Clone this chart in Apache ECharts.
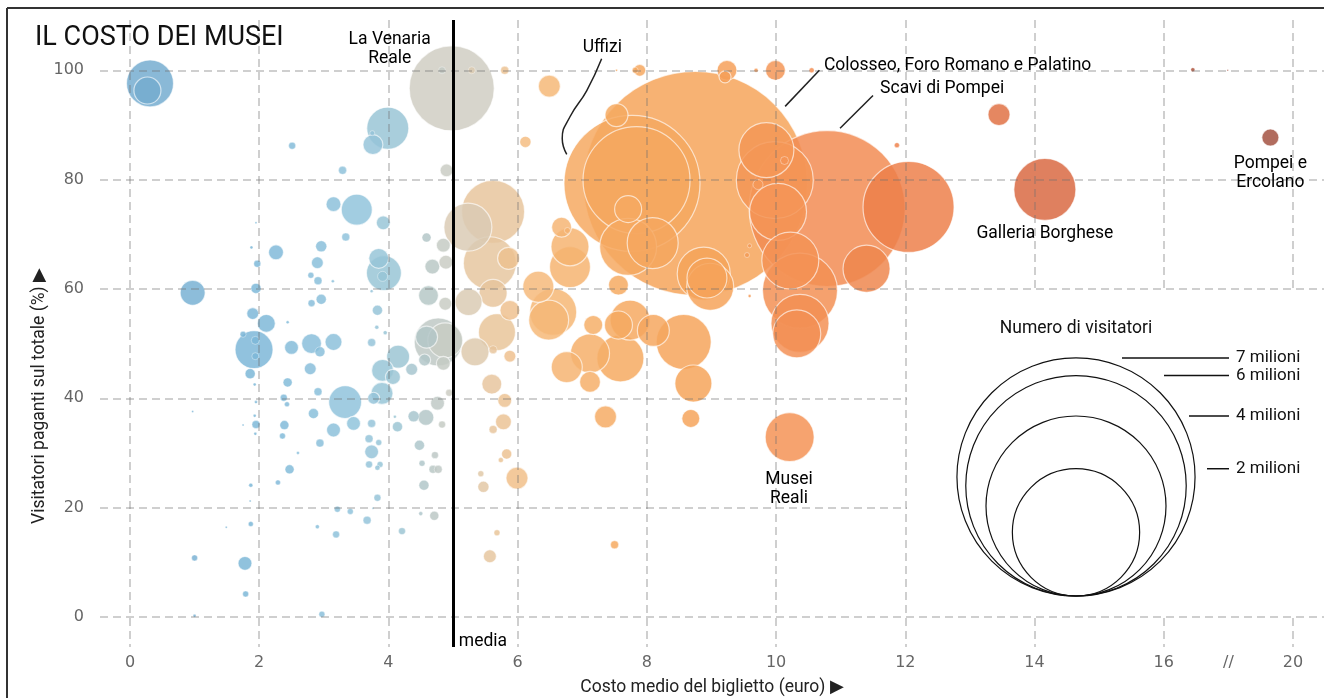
<!DOCTYPE html>
<html><head><meta charset="utf-8">
<script src="https://cdn.jsdelivr.net/npm/echarts@6/dist/echarts.min.js"></script>
<style>html,body{margin:0;padding:0;background:#fff}#c{width:1324px;height:698px}</style>
</head><body><div id="c"></div><script>
// ---- DATA: [costo medio del biglietto (euro), visitatori paganti (%), visitatori (migliaia)] ----
const museiBlu = [
[0.31,97.6,273],[0.27,96.3,90],[0.97,59.3,77],[1.00,10.8,4.4],[1.00,0.2,1.1],[0.97,37.6,0.5],[1.49,16.4,0.5],[1.78,9.8,24],
[1.79,4.2,4.4],[1.87,24.1,2],[1.86,21.2,0.5],[1.87,17.0,3.1],[1.75,35.1,0.5],[1.94,33.5,1.1],[1.95,35.2,7.9],[1.93,36.8,1.1],
[1.95,39.3,1.1],[1.93,42.5,1.1],[1.86,44.5,12.3],[1.92,48.9,178],[1.94,50.6,7.9],[1.94,47.7,6],[1.75,51.7,4.4],[2.11,53.7,40],
[1.90,55.5,17.8],[1.95,60.1,12.3],[1.97,64.6,6],[1.88,67.6,1.1],[1.95,72.1,0.5],[2.26,66.7,27.8],[2.51,86.2,6],[2.44,53.9,1.1],
[2.50,49.3,24.2],[2.44,42.9,10],[2.38,40.1,6],[2.43,38.9,3.1],[2.39,35.1,10],[2.36,33.1,4.4],[2.60,30.0,1.1],[2.47,27.0,10],
[2.29,24.6,3.1],[2.94,31.8,7.9],[2.90,16.5,2],[2.97,0.5,4.4],[3.21,19.7,4.4],[3.41,19.3,4.4],[3.19,15.1,6],[3.67,17.7,7.9],
[3.83,21.8,6],[3.76,19.9,0.5],[4.21,15.7,6],[3.70,27.9,6],[3.83,27.3,3.1],[3.74,30.2,24.2],[3.85,31.9,4.4],[3.70,32.6,7.9],
[3.87,27.9,4.4],[4.14,34.8,12.3],[4.10,36.6,1.1],[3.90,40.9,60],[3.91,45.1,60],[4.07,43.9,28],[4.15,47.6,65],[4.36,45.3,18],
[3.74,50.2,7.9],[3.82,53.0,2],[3.95,52.0,2],[3.83,56.1,12.3],[3.74,59.6,1.1],[3.93,62.9,151],[3.85,65.6,49],[3.91,62.3,12.3],
[2.96,58.1,12.3],[2.81,57.4,6],[2.91,61.5,7.9],[2.80,62.5,4.4],[3.14,61.4,1.1],[2.90,64.8,17.8],[2.96,67.8,15],[3.34,69.5,7.9],
[3.15,75.5,27.8],[3.51,74.5,118.6],[3.92,72.1,24.2],[3.29,81.7,7.9],[3.99,89.4,218],[3.76,86.4,49],[3.75,88.5,3.1],[2.81,50.0,49],
[3.15,50.3,35.7],[3.33,39.3,134],[2.79,45.4,17.8],[2.94,48.5,12.3],[3.15,34.2,24.2],[3.46,35.4,24.2],[2.84,37.2,12.3],[2.91,41.2,7.9],
[3.77,40.0,17.8],[3.74,35.4,7.9]
];
const museiGrigi = [
[4.59,69.4,10],[4.85,68.0,24.2],[4.68,64.1,27.8],[4.89,64.9,24.2],[4.62,58.8,49],[4.88,57.3,21],[4.59,51.2,60],[4.77,50.3,284],
[4.88,50.6,151],[4.56,47.0,17.8],[4.85,46.4,24.2],[4.94,41.0,6],[4.76,39.1,24.2],[4.39,36.7,15],[4.58,36.5,31.6],[4.83,35.2,6],
[4.48,31.4,12.3],[4.72,29.6,6],[4.52,28.1,4.4],[4.55,24.1,12.3],[4.69,27.0,7.9],[4.77,27.0,7.9],[4.50,18.9,2],[4.71,18.5,10],
[4.90,81.7,21],[4.98,96.7,892],[4.83,100,6],[5.29,100,6]
];
const museiBeige = [
[5.62,74.1,490],[5.23,71.3,284],[5.57,64.7,347],[5.86,65.6,60],[5.62,59.2,97],[5.24,57.6,90],[5.88,56.1,49],[5.68,52.1,169],
[5.34,48.5,97],[5.62,48.9,7.9],[5.88,47.7,17.8],[5.60,42.6,49],[5.80,39.6,24.2],[5.78,35.7,31.6],[5.62,34.3,7.9],[5.83,29.8,12.3],
[5.74,28.7,3.1],[5.43,26.2,4.4],[5.47,23.8,15],[5.99,25.4,60],[5.68,15.4,4.4],[5.57,11.1,21],[5.80,100,7.9]
];
const museiArancio = [
[6.49,97.1,60],[6.12,86.9,15],[6.32,60.4,119],[6.55,55.8,273],[6.48,54.3,197],[6.81,64.0,207],[6.81,67.7,178],[6.68,71.3,49],
[6.77,70.7,4.4],[7.17,53.4,44.6],[7.12,48.2,188],[6.76,45.7,119],[7.12,43.0,54],[7.59,47.3,273],[7.74,54.3,197],[7.56,60.7,49],
[7.56,53.4,97],[8.10,52.4,126],[8.57,50.3,373],[8.72,42.7,169],[7.36,36.6,60],[8.68,36.3,40],[7.50,13.2,7.9],[7.53,91.8,65],
[7.82,100,4.4],[7.89,100,17.8],[7.53,100,0.5],[9.24,100,49],[9.21,98.8,17.8],[9.69,100,2],[9.99,100,49],[10.55,100,3.1],
[7.77,79.3,2283],[7.84,79.9,1413],[7.71,74.6,90],[8.09,68.4,321],[7.71,67.7,401],[8.88,62.8,347],[8.93,62.0,197],[8.75,79.3,6195],
[9.85,85.4,373],[9.98,79.9,732],[10.03,74.1,401],[10.13,83.5,7.9],[9.72,79.1,12.3],[9.59,67.9,2],[9.55,66.2,3.1],[8.98,60.4,273],
[10.22,65.2,401],[10.37,59.7,694],[10.37,53.7,415],[10.32,51.8,284],[10.21,32.9,296],[9.59,58.7,1.1]
];
const museiRossi = [
[10.79,74.7,3004],[12.05,75.0,1022],[11.40,63.7,273],[11.87,86.3,3.1],[13.45,91.9,60],[14.16,78.2,475],
[16.90,100.1,2],[17.98,100,0.3],[19.30,87.7,36]
];
const xTicks = [0,2,4,6,8,10,12,14,16,20];
const xBreak = 18;           // "//" marker on the broken axis
const yTicks = [0,20,40,60,80,100];
const costoMedio = 5;        // "media"
const legendMilioni = [7,6,4,2];
const annotations = [
  {text:'La Venaria\nReale', cost:4.02, pct:103.8, align:'center'},
  {text:'Uffizi', cost:7.31, pct:104.2, align:'center'},
  {text:'Colosseo, Foro Romano e Palatino', cost:10.74, pct:100.9, align:'left'},
  {text:'Scavi di Pompei', cost:11.61, pct:96.7, align:'left'},
  {text:'Galleria Borghese', cost:14.16, pct:70.2, align:'center'},
  {text:'Pompei e\nErcolano', cost:19.3, pct:81.1, align:'center'},
  {text:'Musei\nReali', cost:10.20, pct:23.3, align:'center'},
  {text:'media', cost:5.09, pct:-4.6, align:'left'}
];
const leaderUffizi = [[7.30,102.1],[7.07,96.3],[6.81,91.5],[6.69,87.5],[6.76,84.6]];
const leaderColosseo = [[10.14,93.4],[10.67,100.0]];
const leaderPompei = [[10.99,89.4],[11.50,95.4]];

// ---- styles ----
const colorStops = [[0,'#75abcf'],[2,'#7eb8d8'],[3.5,'#92c4dc'],[4.2,'#9dc5d3'],[4.7,'#bbc8c5'],[5,'#d2cec3'],[5.5,'#e4c8a4'],
  [6.2,'#f6bc7e'],[7.5,'#f6aa62'],[9,'#f6a35a'],[10.5,'#f38f55'],[12,'#ed814b'],[14,'#dc6c43'],[16.5,'#ad543d'],[18,'#a05243']];
const FONT = 'Roboto, "Noto Sans", sans-serif';
const TICKFONT = '"DejaVu Sans", sans-serif';

function mapX(v){ return v <= 16 ? v : 16 + (v - 16) / 2; }
function unmapX(v){ return v <= 16 ? v : 16 + (v - 16) * 2; }
function hex(c){ return [parseInt(c.slice(1,3),16),parseInt(c.slice(3,5),16),parseInt(c.slice(5,7),16)]; }
function colorAt(x){
  if (x <= colorStops[0][0]) return colorStops[0][1];
  for (let i = 1; i < colorStops.length; i++){
    if (x <= colorStops[i][0]){
      const [x0,c0] = colorStops[i-1], [x1,c1] = colorStops[i];
      const t = (x - x0) / (x1 - x0), a = hex(c0), b = hex(c1);
      return 'rgb(' + a.map((v,k)=>Math.round(v + (b[k]-v)*t)).join(',') + ')';
    }
  }
  return colorStops[colorStops.length-1][1];
}
function sizeOf(thousands){ return Math.max(1.5, 90 * Math.sqrt(thousands / 1000)); }

const all = [].concat(museiBlu, museiGrigi, museiBeige, museiArancio, museiRossi)
  .slice().sort((a,b)=>b[2]-a[2]);
const bubbleData = all.map(d => {
  const mx = mapX(d[0]); const s = sizeOf(d[2]);
  return {value:[mx, d[1], d[2]], itemStyle:{color: colorAt(mx), borderColor:'rgba(255,255,255,0.75)', borderWidth: s > 12 ? 1.2 : 0.6}};
});

const chart = echarts.init(document.getElementById('c'), null, {renderer:'canvas'});
const gridStyle = {color:'rgba(110,110,110,0.33)', width:2, type:[8,5]};

const legendCx = 1076, legendBottom = 596;
const legendLineStart = [1122,1164,1189,1207];
const graphics = [
  {type:'line', shape:{x1:7,y1:8,x2:1324,y2:8}, style:{stroke:'#333', lineWidth:2}, z:20},
  {type:'line', shape:{x1:7,y1:8,x2:7,y2:698}, style:{stroke:'#333', lineWidth:2}, z:20},
  {type:'text', x:35, y:38, style:{text:'IL COSTO DEI MUSEI', font:'27px ' + FONT, fill:'#111', verticalAlign:'middle'}, z:20},
  {type:'text', x:40, y:396, rotation:Math.PI/2, style:{text:'Visitatori paganti sul totale (%) ▶', font:'17.5px ' + FONT, fill:'#222', align:'center', verticalAlign:'middle'}, z:20},
  {type:'rect', shape:{x:907,y:291,width:417,height:323}, style:{fill:'#fff'}, z:10},
  {type:'text', x:legendCx, y:329, style:{text:'Numero di visitatori', font:'17.5px ' + FONT, fill:'#111', align:'center', verticalAlign:'middle'}, z:11}
];
legendMilioni.forEach((m,i) => {
  const r = sizeOf(m*1000)/2;
  graphics.push({type:'circle', shape:{cx:legendCx, cy:legendBottom - r, r:r}, style:{fill:'none', stroke:'#111', lineWidth:1.2}, z:11});
  const yTop = legendBottom - 2*r;
  graphics.push({type:'line', shape:{x1:legendLineStart[i], y1:yTop, x2:1229, y2:yTop}, style:{stroke:'#111', lineWidth:1.5}, z:11});
  graphics.push({type:'text', x:1236, y:yTop, style:{text:m + ' milioni', font:'17px ' + FONT, fill:'#111', verticalAlign:'middle'}, z:11});
});

const leaderSeries = [leaderUffizi, leaderColosseo, leaderPompei].map((pts,i) => ({
  type:'line', data: pts.map(p=>[mapX(p[0]), p[1]]), smooth: i===0 ? 0.5 : false, symbol:'none', silent:true, z:6,
  lineStyle:{color:'#222', width:1.5}
}));

chart.setOption({
  animation:false,
  grid:{left:100, right:0, top:20, bottom:51, containLabel:false, outerBoundsMode:'none'},
  xAxis:{type:'value', min:-0.464, max:18.48, z:3,
    name:'Costo medio del biglietto (euro) ▶', nameLocation:'middle', nameGap:32,
    nameTextStyle:{fontFamily:FONT, fontSize:17.5, color:'#222'},
    axisLine:{show:false}, axisTick:{show:false, customValues: xTicks.map(mapX)},
    axisLabel:{customValues: xTicks.map(mapX).concat([mapX(xBreak)]), margin:8, color:'#666', fontSize:16, fontFamily:TICKFONT,
      formatter: v => Math.abs(v - mapX(xBreak)) < 1e-6 ? '//' : String(Math.round(unmapX(v)))},
    splitLine:{show:true, lineStyle:gridStyle}},
  yAxis:{type:'value', min:-5.5, max:109.2, z:3,
    axisLine:{show:false}, axisTick:{show:false, customValues: yTicks},
    axisLabel:{customValues: yTicks, margin:16, color:'#666', fontSize:16, fontFamily:TICKFONT},
    splitLine:{show:true, lineStyle:gridStyle}},
  graphic:{elements: graphics},
  series:[
    {type:'scatter', data:bubbleData, symbolSize: v => sizeOf(v[2]), clip:false, z:2, itemStyle:{opacity:0.85}},
    ...leaderSeries,
    {type:'scatter', z:7, silent:true, symbolSize:1, itemStyle:{color:'rgba(0,0,0,0)'}, clip:false,
      data: annotations.map(a => ({name:a.text, value:[mapX(a.cost), a.pct], label:{align:a.align}})),
      label:{show:true, position:'inside', formatter: p => p.name, color:'#000', textBorderWidth:0, opacity:1,
        fontFamily:FONT, fontSize:17.5, lineHeight:19, verticalAlign:'middle'},
      markLine:{symbol:'none', silent:true, label:{show:false}, lineStyle:{color:'#000', width:3, type:'solid'}, data:[{xAxis: costoMedio}]}}
  ]
});
</script></body></html>
